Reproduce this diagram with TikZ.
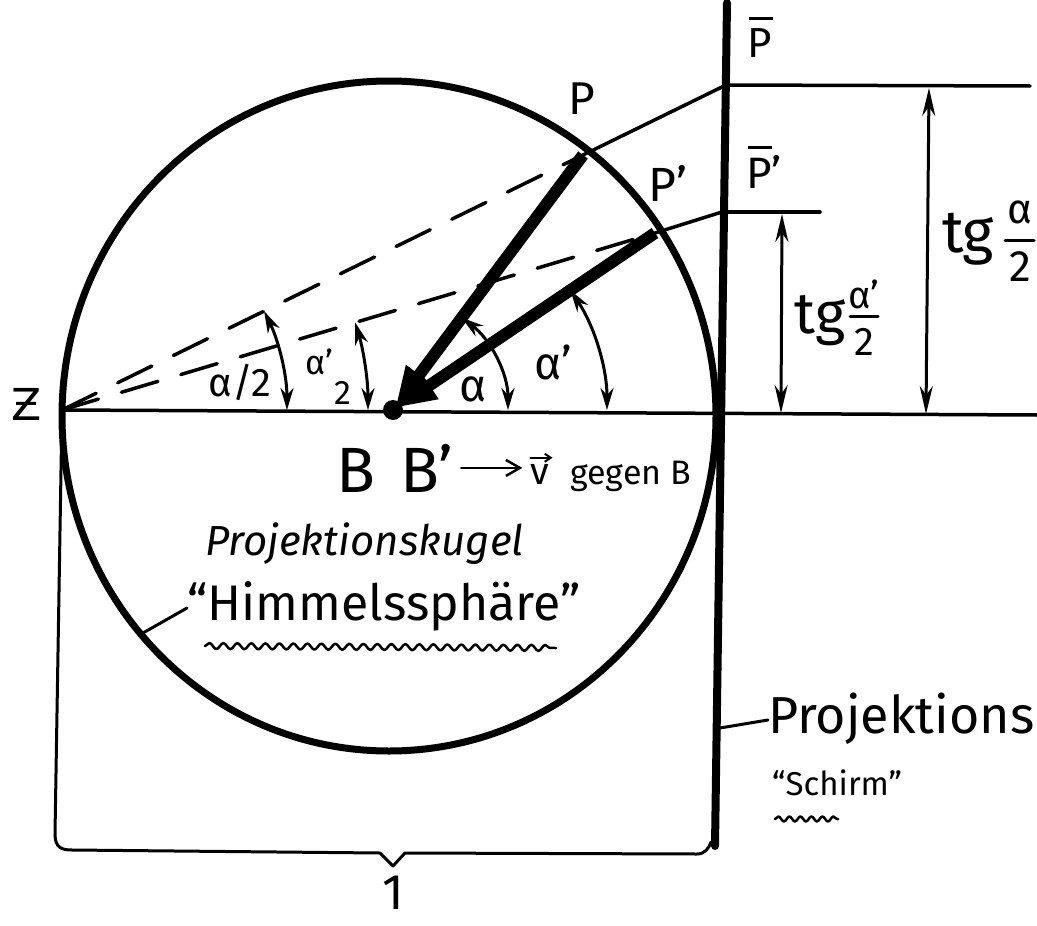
\documentclass[tikz,border=0pt]{standalone}
\usepackage{fontspec}
\setmainfont{Fira Sans}
\newfontfamily\dv{DejaVu Sans}
\usetikzlibrary{arrows.meta,decorations.pathmorphing,calc}
\newcommand\fsz[1]{\fontsize{#1}{#1}\selectfont}
\newcommand\barP{\leavevmode\rlap{\kern0.04em\raisebox{0.9em}{\rule{0.55em}{3pt}}}P}
\tikzset{
  circ/.style={line width=7pt},
  axisline/.style={line width=3.5pt},
  screenline/.style={line width=8pt},
  ray/.style={line width=3.5pt},
  dashray/.style={line width=3.5pt, dash pattern=on 38pt off 24pt},
  vecarrow/.style={line width=12pt, line cap=butt, -{Triangle[length=40pt,width=30pt]}, shorten >=4pt},
  angarrow/.style={line width=3pt, {Stealth[length=22pt,width=13pt]}-{Stealth[length=22pt,width=13pt]}},
  dimarrow/.style={line width=3pt, {Stealth[length=28pt,width=13pt]}-{Stealth[length=28pt,width=13pt]}},
  thin/.style={line width=3pt},
  lbl/.style={inner sep=0pt, font=\fsz{45}},
  wavy/.style={line width=2.5pt, decorate, decoration={snake, amplitude=3pt, segment length=14pt}},
}
\begin{document}
\begin{tikzpicture}[x=1pt,y=-1pt,line cap=round,line join=round]
\useasboundingbox (0,0) rectangle (1037,926);
% key points
\coordinate (C) at (389,416);
\coordinate (Z) at (62,410);
\coordinate (B) at (393,410);
\coordinate (P) at (583,155);
\coordinate (Pp) at (655,233);
\coordinate (Pb) at (726,85);
\coordinate (Pbp) at (722,212);
\coordinate (AxR) at (1037,415);
\coordinate (ScT) at (727,3);
\coordinate (ScB) at (715,846);
\coordinate (PbR) at (1030,86);
\coordinate (PbpR) at (820,212);
% sphere
\draw[circ] (C) ellipse [x radius=327, y radius=335];
% axis
\draw[axisline] (Z) -- (AxR);
% screen
\draw[screenline] (ScT) -- (ScB);
% projection rays
\draw[dashray] (Z) -- (P);
\draw[ray] (P) -- (Pb);
\draw[dashray] (Z) -- (Pp);
\draw[ray] (Pp) -- (Pbp);
\draw[ray] (Pb) -- (PbR);
\draw[ray] (Pbp) -- (PbpR);
% vectors to B
\draw[vecarrow] (P) -- (B);
\draw[vecarrow] (Pp) -- (B);
\fill (B) circle[radius=10];
% angle arcs
\draw[angarrow] ($(B)+(115,0)$) arc[start angle=0,end angle=-53.3,radius=115];
\draw[angarrow] ($(B)+(214,0)$) arc[start angle=0,end angle=-34.0,radius=214];
\draw[angarrow] ($(Z)+(225,0)$) arc[start angle=0,end angle=-26.1,radius=225];
\draw[angarrow] ($(Z)+(306,0)$) arc[start angle=0,end angle=-16.6,radius=306];
% dimension arrows on the screen side
\coordinate (D1t) at (782,214);
\coordinate (D1b) at (781,413);
\coordinate (D2t) at (929,88);
\coordinate (D2b) at (926,414);
\draw[dimarrow] (D1t) -- (D1b);
\draw[dimarrow] (D2t) -- (D2b);
% left support line and brace
\coordinate (BrTip) at (393,866);
\draw[thin] (Z) -- (55,834) .. controls (55,848) and (62,850) .. (72,850) -- (380,853) -- (BrTip) -- (405,853) -- (697,854) .. controls (705,854) and (709,848) .. (711,842);
% labels
\node[lbl, font=\dv\fsz{44}] (zl) at (27,404) {Ƶ};
\node[lbl, font=\fsz{46}] (pl) at (582,99) {P};
\node[lbl, font=\fsz{48}] (ppl) at (668,183) {P'};
\node[lbl, font=\fsz{42}] (pbl) at (760,37) {\barP};
\node[lbl, font=\fsz{44}] (pbpl) at (764,167) {\barP'};
% tg alpha'/2
\node[lbl, font=\fsz{58}, anchor=base] (tg1) at (820,333) {tg};
\node[lbl, font=\fsz{38}] (n1) at (864,294) {α'};
\draw[thin] (850,316) -- (878,316);
\node[lbl, font=\fsz{40}] (d1) at (864,342) {2};
% tg alpha/2
\node[lbl, font=\fsz{60}, anchor=base] (tg2) at (968,252) {tg};
\node[lbl, font=\fsz{42}] (n2) at (1020,212) {α};
\draw[thin] (1005,240) -- (1034,240);
\node[lbl, font=\fsz{44}] (d2) at (1020,267) {2};
% angle labels
\node[lbl, font=\fsz{40}] (ah) at (240,382) {α/2};
\node[lbl, font=\fsz{34}] (aph) at (319,362) {α'};
\node[lbl, font=\fsz{34}] (aph2) at (343,393) {2};
\node[lbl, font=\fsz{46}] (al) at (473,389) {α};
\node[lbl, font=\fsz{46}] (alp) at (553,362) {α'};
% B B' -> v gegen B
\node[lbl, font=\fsz{64}, anchor=base] (b1) at (356,492) {B};
\node[lbl, font=\fsz{64}, anchor=base west] (b2) at (400,492) {B'};
\node[lbl, font=\fsz{38}, anchor=base] (vv) at (540,484) {v};
\draw[line width=2pt, -{Straight Barb[length=6pt,width=8pt]}] ([yshift=6pt]vv.north west) -- ([yshift=6pt,xshift=3pt]vv.north east);
\node[lbl, font=\fsz{34}, anchor=base west] (gg) at (570,484) {gegen B};
\draw[line width=2.5pt, -{Straight Barb[length=14pt,width=16pt]}, shorten <=8pt, shorten >=8pt] (b2.east) -- (b2.east -| vv.west);
% sphere captions
\node[lbl, font=\itshape\fsz{42}, anchor=base west] (pk) at (205,555) {Projektionskugel};
\node[lbl, font=\fsz{50}, anchor=base west] (hs) at (187,620) {``Himmelssphäre''};
\draw[wavy] (205,646) -- (556,648);
\coordinate (hsL) at (143,633);
\draw[thin] (hsL) -- (hs.west |- 0,608);
% screen captions
\node[lbl, font=\fsz{52}, anchor=base west] (ps) at (768,733) {Projektions};
\coordinate (scL) at (720,728);
\draw[thin] (scL) -- (ps.west |- 0,720);
\node[lbl, font=\fsz{33}, anchor=base west] (sc) at (772,795) {``Schirm''};
\draw[wavy, decoration={snake, amplitude=2.5pt, segment length=11pt}] (775,819) -- (838,819);
% unit length
\node[lbl, font=\fsz{50}] (one) at (393,893) {1};
\end{tikzpicture}
\end{document}
